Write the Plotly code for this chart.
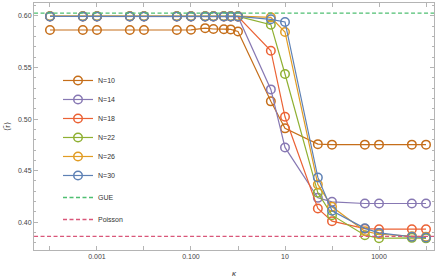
import plotly.graph_objects as go

kappa = [0.0001, 0.0005, 0.001, 0.005, 0.01, 0.05, 0.1, 0.2, 0.3, 0.5, 0.7, 1,
         5, 10, 50, 100, 500, 1000, 5000, 10000]

r_N10 = [0.5864, 0.5864, 0.5864, 0.5864, 0.5864, 0.5864, 0.5866, 0.5882, 0.5874, 0.5872, 0.5870, 0.5850,
         0.5172, 0.4910, 0.4757, 0.4752, 0.4752, 0.4752, 0.4752, 0.4752]
r_N14 = [0.5995, 0.5995, 0.5995, 0.5995, 0.5995, 0.5995, 0.5995, 0.5995, 0.5995, 0.5995, 0.5995, 0.5993,
         0.5288, 0.4725, 0.4236, 0.4197, 0.4181, 0.4181, 0.4181, 0.4181]
r_N18 = [0.5996, 0.5996, 0.5996, 0.5996, 0.5996, 0.5996, 0.5996, 0.5996, 0.5996, 0.5996, 0.5996, 0.5995,
         0.5663, 0.5022, 0.4133, 0.4010, 0.3937, 0.3932, 0.3932, 0.3932]
r_N22 = [0.5997, 0.5997, 0.5997, 0.5997, 0.5997, 0.5997, 0.5997, 0.5997, 0.5997, 0.5997, 0.5997, 0.5997,
         0.5916, 0.5437, 0.4285, 0.4068, 0.3874, 0.3844, 0.3848, 0.3843]
r_N26 = [0.5998, 0.5998, 0.5998, 0.5998, 0.5998, 0.5998, 0.5998, 0.5998, 0.5998, 0.5998, 0.5998, 0.5998,
         0.5987, 0.5845, 0.4366, 0.4149, 0.3913, 0.3883, 0.3864, 0.3858]
r_N30 = [0.5996, 0.5996, 0.5996, 0.5996, 0.5996, 0.5996, 0.5996, 0.5996, 0.5996, 0.5996, 0.5996, 0.5996,
         0.5968, 0.5942, 0.4434, 0.4110, 0.3940, 0.3896, 0.3858, 0.3852]

series_names = ["N=10", "N=14", "N=18", "N=22", "N=26", "N=30"]
series_values = [r_N10, r_N14, r_N18, r_N22, r_N26, r_N30]
series_colors = ["#C56E1A", "#8778B3", "#EB6235", "#8FB032", "#E19C24", "#5E81B5"]

r_GUE = 0.6027
r_Poisson = 0.3863

x_tickvals = [0.0001, 0.001, 0.01, 0.1, 1, 10, 100, 1000, 10000]
x_ticktext = ["", "0.001", "", "0.100", "", "10", "", "1000", ""]
y_tickvals = [0.40, 0.45, 0.50, 0.55, 0.60]
y_ticktext = ["0.40", "0.45", "0.50", "0.55", "0.60"]

fig = go.Figure()
for name, vals, col in zip(series_names, series_values, series_colors):
    fig.add_trace(go.Scatter(
        x=kappa, y=vals, name=name, mode="lines+markers",
        line=dict(color=col, width=1.2),
        marker=dict(symbol="circle-open", size=8.5, color=col, line=dict(width=1.5, color=col)),
        legendgroup="N",
    ))

fig.add_trace(go.Scatter(
    x=[kappa[0] / 3, kappa[-1] * 3], y=[r_GUE, r_GUE], name="GUE", mode="lines",
    line=dict(color="#4FBF72", width=1.3, dash="4px,2.5px"), legendgroup="GUE"))
fig.add_trace(go.Scatter(
    x=[kappa[0] / 3, kappa[-1] * 3], y=[r_Poisson, r_Poisson], name="Poisson", mode="lines",
    line=dict(color="#D9577A", width=1.3, dash="4px,2.5px"), legendgroup="Poisson"))

axis_common = dict(
    showgrid=False, zeroline=False, showline=True, linecolor="#b4b4b4", linewidth=1,
    mirror="allticks", ticks="inside", tickcolor="#b4b4b4", ticklen=4,
    tickfont=dict(size=7, color="#444444"), automargin=False,
)

fig.update_xaxes(type="log", range=[-4.34, 4.17], tickvals=x_tickvals, ticktext=x_ticktext,
                 title=dict(text="<i>κ</i>", font=dict(size=8, color="#333333"), standoff=10),
                 **axis_common)
fig.update_yaxes(range=[0.373, 0.6126], tickvals=y_tickvals, ticktext=y_ticktext,
                 minor=dict(dtick=0.01, ticks="inside", ticklen=2, tickcolor="#b4b4b4"),
                 title=dict(text="⟨r̃⟩", font=dict(size=8, color="#333333"), standoff=6),
                 **axis_common)

fig.update_layout(
    width=436, height=280,
    margin=dict(l=34, r=2, t=3, b=30),
    paper_bgcolor="white", plot_bgcolor="white",
    font=dict(family="Liberation Sans, Arial, sans-serif", size=7, color="#444444"),
    legend=dict(x=0.06, y=0.745, xanchor="left", yanchor="top", bgcolor="rgba(0,0,0,0)",
                font=dict(size=7, color="#333333"), tracegroupgap=3, traceorder="grouped"),
    showlegend=True,
)

fig.write_html("out.html", config={"displayModeBar": False},
               post_script="document.body.style.margin='0';")
